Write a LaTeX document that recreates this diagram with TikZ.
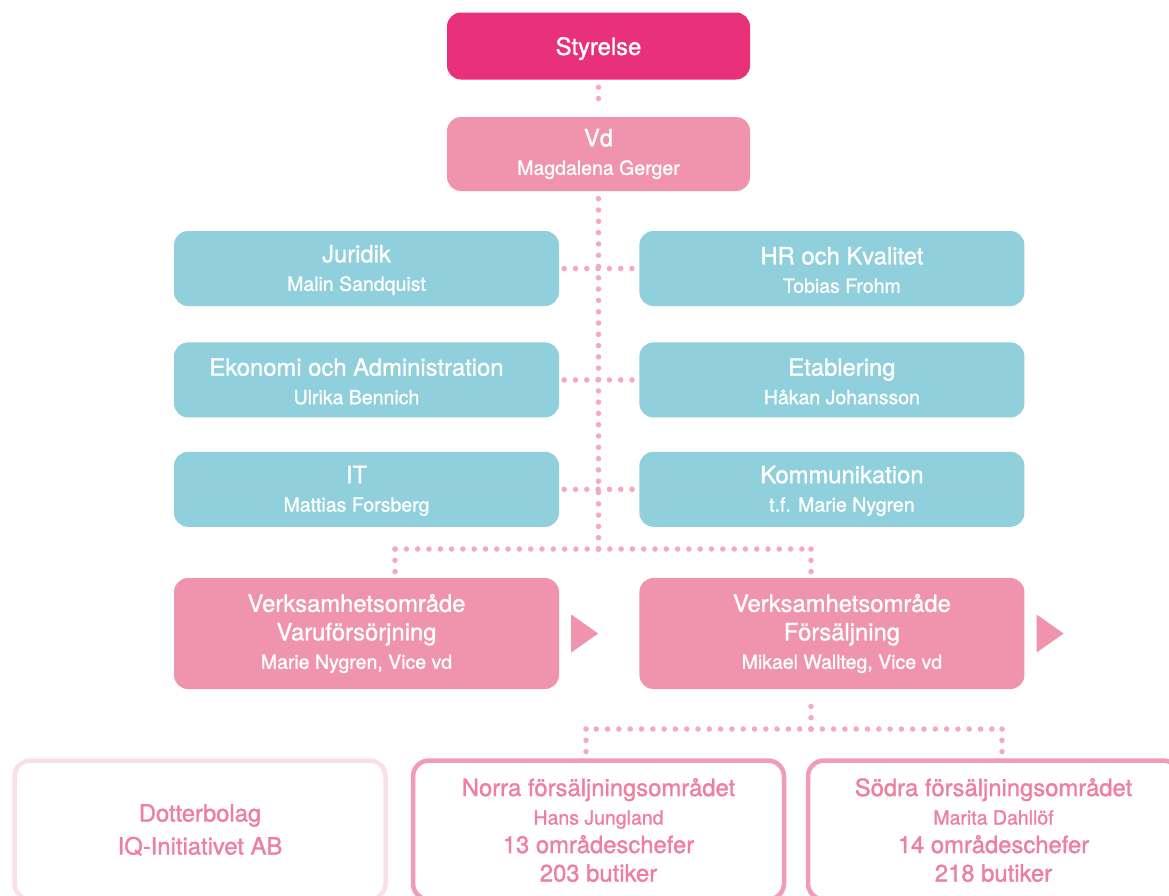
\documentclass[tikz,border=0pt]{standalone}
\usepackage{fontspec}
\setmainfont{TeX Gyre Heros}[FakeBold=1.2]
\usepackage{xcolor}
\usepackage{tikz}
\usetikzlibrary{positioning}
\definecolor{boardpink}{HTML}{E8317A}
\definecolor{mgmtpink}{HTML}{F094AE}
\definecolor{staffteal}{HTML}{8FD0DC}
\definecolor{dotpink}{HTML}{F5A8C0}
\definecolor{linepink}{HTML}{F29BB6}
\definecolor{palepink}{HTML}{FBDFE8}
\definecolor{textpink}{HTML}{EE7FA1}
\newcommand{\headfont}{\fontsize{23.8}{28.5}\selectfont}
\newcommand{\namefont}{\fontsize{19.5}{28.5}\selectfont}
\tikzstyle{board} = [rectangle, rounded corners=14pt, minimum width=303pt, minimum height=67pt, text centered, text depth=0pt, fill=boardpink, text=white, font=\headfont]
\tikzstyle{ceo} = [rectangle, rounded corners=14pt, minimum width=303pt, minimum height=74pt, align=center, fill=mgmtpink, text=white, font=\headfont]
\tikzstyle{staff} = [rectangle, rounded corners=14pt, minimum width=385pt, minimum height=75pt, fill=staffteal]
\tikzstyle{area} = [staff, fill=mgmtpink, minimum height=111pt]
\tikzstyle{boxtext} = [align=center, text=white, font=\headfont]
\tikzstyle{region} = [rectangle, rounded corners=16pt, minimum width=371pt, minimum height=139pt, align=center, draw=linepink, line width=4.5pt, text=textpink, font=\headfont]
\tikzstyle{subsid} = [region, draw=palepink]
\tikzstyle{dots} = [dotpink, line width=5.5pt, line cap=round, dash pattern=on 0pt off 11.3pt]
\tikzstyle{more} = [fill=mgmtpink]

\begin{document}
\begin{tikzpicture}[x=1pt, y=-1pt]
  \clip (0,0) rectangle (1169,895);
  \fill[white] (0,0) rectangle (1169,895);

  \node (board) [board] at (598.5,46) {Styrelse};
  \node (vd)    [ceo] at (598.5,154) {Vd\\{\namefont Magdalena Gerger}};

  % staff functions
  \node (jur) [staff] at (366.5,268.5) {};
  \node (hr)  [staff, right=80pt of jur] {};
  \node (eko) [staff, below=36pt of jur] {};
  \node (etb) [staff, right=80pt of eko] {};
  \node (it)  [staff, below=34pt of eko] {};
  \node (kom) [staff, right=80pt of it] {};
  \node (jurtext) [boxtext, xshift=-10pt, yshift=-1.5pt] at (jur) {Juridik\\{\namefont Malin Sandquist}};
  \node (hrtext)  [boxtext, xshift=10pt, yshift=-1.5pt] at (hr) {HR och Kvalitet\\{\namefont Tobias Frohm}};
  \node (ekotext) [boxtext, xshift=-10pt, yshift=-1.5pt] at (eko) {Ekonomi och Administration\\{\namefont Ulrika Bennich}};
  \node (etbtext) [boxtext, xshift=10pt, yshift=-1.5pt] at (etb) {Etablering\\{\namefont Håkan Johansson}};
  \node (ittext)  [boxtext, xshift=-10pt, yshift=-1.5pt] at (it) {IT\\{\namefont Mattias Forsberg}};
  \node (komtext) [boxtext, xshift=10pt, yshift=-1.5pt] at (kom) {Kommunikation\\{\namefont t.f. Marie Nygren}};

  % business areas
  \node (vara) [area] at (366.5,633.5) {};
  \node (fors) [area, right=80pt of vara] {};
  \node (varatext) [boxtext, xshift=-10pt] at (vara) {Verksamhetsområde\\Varuförsörjning\\{\namefont Marie Nygren, Vice vd}};
  \node (forstext) [boxtext, xshift=10pt] at (fors) {Verksamhetsområde\\Försäljning\\{\namefont Mikael Wallteg, Vice vd}};

  \node (dotter) [subsid] at (200,830) {Dotterbolag\\[4.5pt]IQ-Initiativet AB};
  \node (norra)  [region] at (598.5,830) {Norra försäljningsområdet\\{\namefont Hans Jungland}\\13 områdeschefer\\203 butiker};
  \node (sodra)  [region] at (993.5,830) {Södra försäljningsområdet\\{\namefont Marita Dahllöf}\\14 områdeschefer\\218 butiker};

  % continuation marks
  \fill[more] ([shift={(12,-19)}]vara.east) -- ([shift={(39,0)}]vara.east) -- ([shift={(12,19)}]vara.east) -- cycle;
  \fill[more] ([shift={(12,-19)}]fors.east) -- ([shift={(39,0)}]fors.east) -- ([shift={(12,19)}]fors.east) -- cycle;

  % dotted connectors
  \coordinate (split) at (598.5,549);
  \coordinate (sl) at (395,549);
  \coordinate (sr) at (811,549);
  \coordinate (bs) at (811,729);
  \coordinate (bl) at (586,729);
  \coordinate (br) at (1002,729);

  \draw [dots, shorten <=7.5pt, shorten >=7.5pt] (board) -- (vd);
  \draw [dots, shorten >=6pt] (split) -- (vd.south);
  \draw [dots, shorten <=5pt, shorten >=5pt] (jur) -- (hr);
  \draw [dots, shorten <=5pt, shorten >=5pt] (eko) -- (etb);
  \draw [dots, shorten <=5pt, shorten >=5pt] (it) -- (kom);
  \draw [dots] (split) -- (sl);
  \draw [dots] (split) -- (sr);
  \draw [dots, shorten >=6pt] (sl) -- (sl |- vara.north);
  \draw [dots, shorten >=6pt] (sr) -- (sr |- fors.north);
  \draw [dots, shorten >=8pt] (bs) -- (fors.south -| bs);
  \draw [dots] (bs) -- (bl);
  \draw [dots] (bs) -- (br);
  \draw [dots, shorten >=5.5pt] (bl) -- (norra.north -| bl);
  \draw [dots, shorten >=5.5pt] (br) -- (sodra.north -| br);
\end{tikzpicture}
\end{document}
